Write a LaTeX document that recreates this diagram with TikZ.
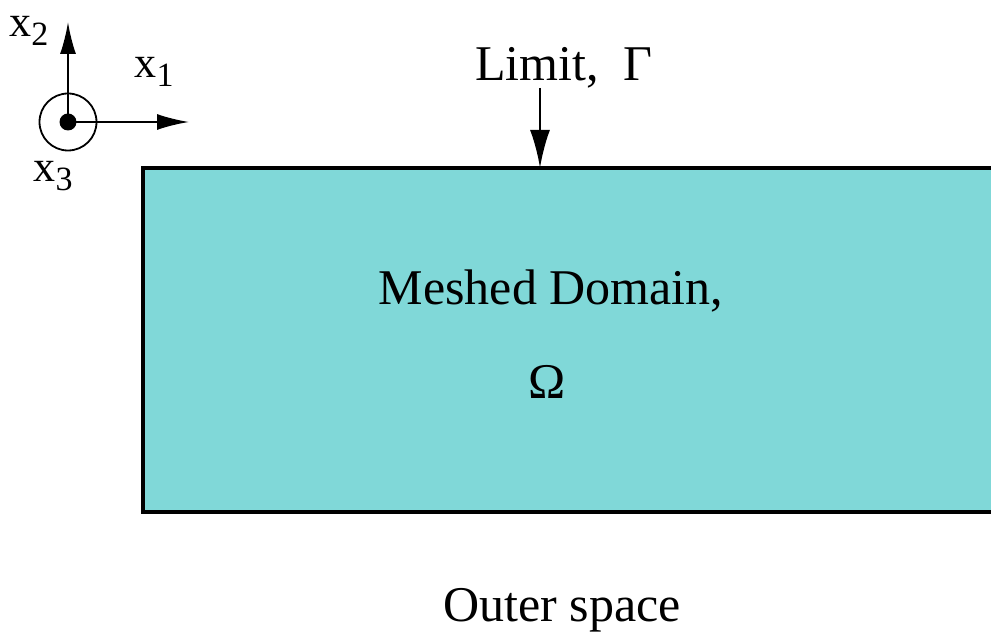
\documentclass[tikz,border=0pt]{standalone}
\usepackage{fontspec}
\setmainfont{Liberation Serif}
\usetikzlibrary{arrows.meta}
\usetikzlibrary{positioning}
\definecolor{domaincyan}{RGB}{128,216,216}
\tikzstyle{label} = [inner sep=0pt, font=\fontsize{25}{28}\selectfont]
\tikzstyle{axlabel} = [inner sep=0pt, font=\fontsize{22}{24}\selectfont]
\tikzstyle{edge} = [draw, line width=1.4pt, -{Latex[length=19pt,width=10pt]}]
\tikzstyle{axis} = [draw, line width=1pt, -{Latex[length=16pt,width=8pt]}]
\newcommand{\axname}[1]{x\raisebox{-0.45ex}{\fontsize{17}{18}\selectfont #1}}

\begin{document}
\begin{tikzpicture}[x=0.5pt, y=-0.5pt]
    \useasboundingbox (0,0) rectangle (991,635);

    % The meshed domain and its texts
    \draw[line width=1.8pt, fill=domaincyan] (143,168) rectangle (1020,512);
    \coordinate (domaintop) at (540,168);
    \node[label] (meshed) at (551,291) {Meshed Domain,};
    \node[label] (omega) at (547,382) {Ω};
    \node[label] (outer) at (562,610) {Outer space};

    % The limit and its arrow
    \node[label] (limit) at (564,68) {Limit,\enspace Γ};
    \coordinate (limitfoot) at (540,88);
    \path[edge] (limitfoot) -- (domaintop);

    % Axes: x3 points out of the page
    \node[circle, draw, line width=0.9pt, minimum size=57pt*0.5, inner sep=0pt] (ring) at (68,122) {};
    \node[circle, fill=black, minimum size=8.5pt, inner sep=0pt] (origin) at (68,122) {};
    \coordinate (xtwotip) at (68,22);
    \coordinate (xonetip) at (189,122);
    \path[axis] (origin.center) -- (xtwotip);
    \path[axis] (origin.center) -- (xonetip);
    \node[axlabel] (xtwo) at (29,31) {\axname{2}};
    \node[axlabel] (xone) at (154,72) {\axname{1}};
    \node[axlabel] (xthree) at (53,176) {\axname{3}};
\end{tikzpicture}
\end{document}
